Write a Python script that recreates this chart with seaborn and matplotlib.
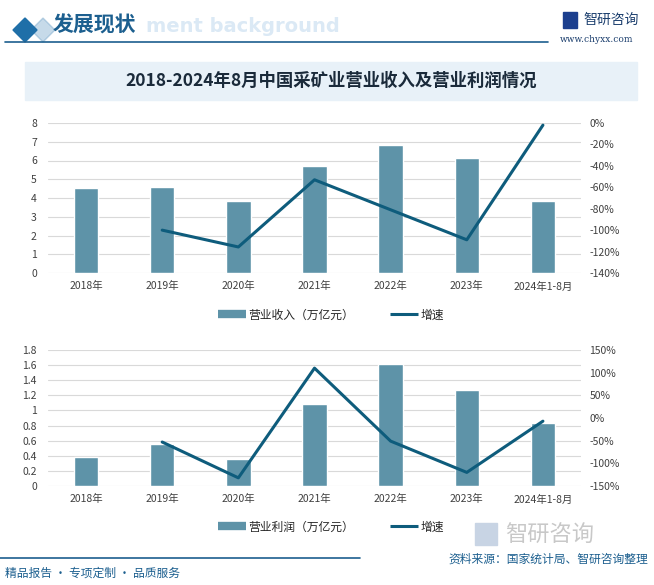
import numpy as np
import pandas as pd
import matplotlib
matplotlib.use("Agg")
import matplotlib.pyplot as plt
from matplotlib.patches import Rectangle, Polygon
from matplotlib.lines import Line2D
import seaborn as sns

sns.set_theme(style="white")
plt.rcParams['font.family'] = ['Noto Sans CJK SC', 'DejaVu Sans']

categories = ["2018年", "2019年", "2020年", "2021年", "2022年", "2023年", "2024年1-8月"]
revenue = [4.53, 4.59, 3.84, 5.71, 6.83, 6.13, 3.84]
revenue_growth = [np.nan, -100.0, -115.7, -53.0, -81.0, -109.0, -2.0]
profit = [0.38, 0.55, 0.36, 1.08, 1.62, 1.27, 0.83]
profit_growth = [np.nan, -53.0, -132.0, 110.0, -51.0, -120.0, -7.0]

rev_ticks = list(range(0, 9))
rev_growth_ticks = list(range(-140, 1, 20))
prof_ticks = [0, 0.2, 0.4, 0.6, 0.8, 1.0, 1.2, 1.4, 1.6, 1.8]
prof_growth_ticks = list(range(-150, 151, 50))

BAR = "#5e93a8"
LINE = "#0e5c7c"
GRID = "#d9d9d9"
TXT = "#404040"

W, H = 654, 585
fig = plt.figure(figsize=(W / 100, H / 100), dpi=100)

def fx(x):
    return x / W

def fy(y):
    return 1 - y / H

# Header
fig.patches.append(Polygon([[fx(31), fy(30)], [fx(43), fy(18)], [fx(55), fy(30)], [fx(43), fy(42)]],
                           closed=True, transform=fig.transFigure, color="#1f6fa8", alpha=0.25))
fig.patches.append(Polygon([[fx(13), fy(30)], [fx(25), fy(18)], [fx(37), fy(30)], [fx(25), fy(42)]],
                           closed=True, transform=fig.transFigure, color="#1f6fa8"))
fig.text(fx(146), fy(27), "ment background", fontsize=14, fontweight="bold", color="#dbe9f5",
         va="center", ha="left", family="DejaVu Sans")
fig.text(fx(53), fy(25), "发展现状", fontsize=15, fontweight="bold", color="#1c5f8f", va="center", ha="left")
fig.add_artist(Line2D([fx(5), fx(548)], [fy(42), fy(42)], transform=fig.transFigure, color="#1c5f8f", lw=1.2))
fig.text(fx(583), fy(20), "智研咨询", fontsize=10, color="#1c3f6e", va="center", ha="left")
fig.patches.append(Rectangle((fx(563), fy(28)), fx(14), 16 / H, transform=fig.transFigure, color="#1c3f8e"))
fig.text(fx(560), fy(40), "www.chyxx.com", fontsize=6.5, color="#1c3f6e", va="center", ha="left",
         family="DejaVu Serif")

# Title band
fig.patches.append(Rectangle((fx(25), fy(100)), fx(612), 38 / H, transform=fig.transFigure,
                             color="#e8f1f8", zorder=0))
fig.text(fx(331), fy(81), "2018-2024年8月中国采矿业营业收入及营业利润情况", fontsize=12.5,
         fontweight="bold", color="#1a2a3a", ha="center", va="center")

def make_panel(top, bottom, values, growth, lticks, rticks, lfmt, rfmt, label, leg_y):
    ax = fig.add_axes([fx(48), fy(bottom), fx(581 - 48), (bottom - top) / H])
    df = pd.DataFrame({"cat": categories, "val": values})
    sns.barplot(data=df, x="cat", y="val", ax=ax, color=BAR, width=0.32, saturation=1, zorder=3)
    if ax.get_legend() is not None:
        ax.get_legend().remove()
    ax.set_ylim(lticks[0], lticks[-1])
    ax.set_yticks(lticks)
    ax.set_yticklabels([lfmt(t) for t in lticks], fontsize=7.5, color=TXT)
    ax.set_xlabel("")
    ax.set_ylabel("")
    ax.tick_params(axis="x", labelsize=7.5, colors=TXT, length=0, pad=6)
    ax.tick_params(axis="y", length=0, pad=8)
    ax.grid(axis="y", color=GRID, lw=0.8, zorder=0)
    for s in ax.spines.values():
        s.set_visible(False)
    ax.set_xlim(-0.5, len(categories) - 0.5)

    ax2 = ax.twinx()
    gdf = pd.DataFrame({"x": np.arange(len(categories)), "g": growth}).dropna()
    sns.lineplot(data=gdf, x="x", y="g", ax=ax2, color=LINE, lw=2.2, legend=False)
    ax2.set_ylim(rticks[0], rticks[-1])
    ax2.set_yticks(rticks)
    ax2.set_yticklabels([rfmt(t) for t in rticks], fontsize=7.5, color=TXT)
    ax2.tick_params(axis="y", length=0, pad=6)
    ax2.set_ylabel("")
    ax2.set_xlabel("")
    for s in ax2.spines.values():
        s.set_visible(False)
    ax2.set_xlim(-0.5, len(categories) - 0.5)
    ax.patch.set_alpha(0)

    handles = [Line2D([0], [0], color=BAR, lw=6, solid_capstyle="butt"),
               Line2D([0], [0], color=LINE, lw=2.2, solid_capstyle="butt")]
    fig.legend(handles, [label, "增速"], loc="center", bbox_to_anchor=(fx(331), fy(leg_y)),
               ncol=2, frameon=False, fontsize=8.5, handlelength=2.4, columnspacing=3.0,
               handletextpad=0.2)
    return ax, ax2

make_panel(123, 273, revenue, revenue_growth, rev_ticks, rev_growth_ticks,
           lambda t: f"{t:d}", lambda t: f"{t:d}%", "营业收入（万亿元）", 315)
make_panel(350, 486, profit, profit_growth, prof_ticks, prof_growth_ticks,
           lambda t: ("0" if t == 0 else ("1" if t == 1 else f"{t:.1f}")), lambda t: f"{t:d}%",
           "营业利润（万亿元）", 527)

# Footer
fig.add_artist(Line2D([0, fx(360)], [fy(558), fy(558)], transform=fig.transFigure, color="#1c5f8f", lw=1.2))
fig.text(fx(5), fy(573), "精品报告 · 专项定制 · 品质服务", fontsize=8.5, color="#1c5f8f", va="center", ha="left")
fig.text(fx(648), fy(559), "资料来源：国家统计局、智研咨询整理", fontsize=8.5, color="#1c5f8f",
         va="center", ha="right")
fig.text(fx(505), fy(535), "智研咨询", fontsize=16, color="#c8c8c8", va="center", ha="left")
fig.patches.append(Rectangle((fx(475), fy(545)), fx(22), 22 / H, transform=fig.transFigure, color="#c8d4e4"))

fig.savefig("out.png", dpi=100)
